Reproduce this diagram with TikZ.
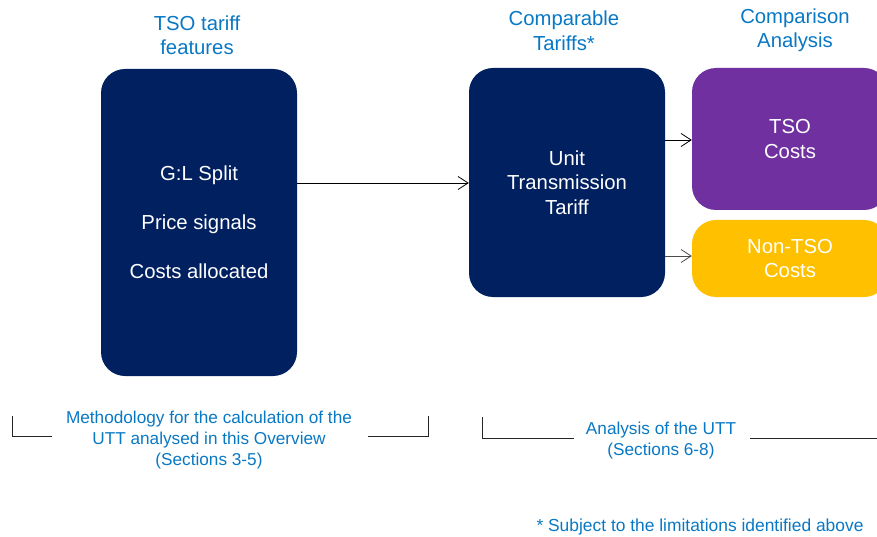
\documentclass[tikz,border=0pt]{standalone}
\usepackage{fontspec}
\setmainfont{Liberation Sans}
\usetikzlibrary{arrows.meta}
\definecolor{navy}{HTML}{002060}
\definecolor{tbl}{HTML}{0878C4}
\definecolor{purp}{HTML}{7030A0}
\definecolor{gold}{HTML}{FFC000}
\begin{document}
\begin{tikzpicture}[x=1pt,y=-1pt,
  boxstyle/.style={rounded corners=24pt, minimum width=196pt, inner sep=0pt, text=white, align=center, font=\fontsize{20.3}{24.5}\selectfont},
  title/.style={text=tbl, align=center, font=\fontsize{20.3}{24.5}\selectfont},
  note/.style={text=tbl, align=center, font=\fontsize{17.2}{21}\selectfont},
  arr/.style={-{Straight Barb[length=10pt,width=13pt,line width=0.8pt]}, line width=0.7pt},
  brk/.style={line width=0.8pt, draw=black!85}]
\useasboundingbox (0,0) rectangle (877,537);
\clip (0,0) rectangle (877,537);
\node[boxstyle, fill=navy, minimum height=307pt] (b1) at (199,222.5) {G:L Split\\[24.5pt]Price signals\\[24.5pt]Costs allocated};
\node[boxstyle, fill=navy, minimum height=229pt] (b2) at (567,182.5) {Unit\\Transmission\\Tariff};
\node[boxstyle, fill=purp, minimum height=142pt] (b3) at (790,139) {TSO\\Costs};
\node[boxstyle, fill=gold, minimum height=77pt] (b4) at (790,258.5) {Non-TSO\\Costs};
\node[title] (t1) at (197,35) {TSO tariff\\features};
\node[title] (t2) at (564,30.5) {Comparable\\Tariffs*};
\node[title] (t3) at (795,30.5) {Comparison\\Analysis};
\draw[arr] (b1.east |- 0,183) -- (b2.west |- 0,183);
\draw[arr] (b2.east |- 0,140) -- (b3.west |- 0,140);
\draw[arr, draw=black!70] (b2.east |- 0,256) -- (b4.west |- 0,256);
\node[note] (n1) at (209,440) {Methodology for the calculation of the\\UTT analysed in this Overview\\(Sections 3-5)};
\coordinate (l1a) at (12,416); \coordinate (l1b) at (12,436); \coordinate (l1c) at (52,436);
\coordinate (r1a) at (368,436); \coordinate (r1b) at (428,436); \coordinate (r1c) at (428,416);
\draw[brk] (l1a) -- (l1b) -- (l1c);
\draw[brk] (r1a) -- (r1b) -- (r1c);
\node[note] (n2) at (661,440.5) {Analysis of the UTT\\(Sections 6-8)};
\coordinate (l2a) at (482,417); \coordinate (l2b) at (482,438); \coordinate (l2c) at (574,438);
\coordinate (r2a) at (750,438); \coordinate (r2b) at (880,438);
\draw[brk] (l2a) -- (l2b) -- (l2c);
\draw[brk] (r2a) -- (r2b);
\node[text=tbl, anchor=east, font=\fontsize{17.4}{20}\selectfont] (fn) at (867,527) {* Subject to the limitations identified above};
\end{tikzpicture}
\end{document}
